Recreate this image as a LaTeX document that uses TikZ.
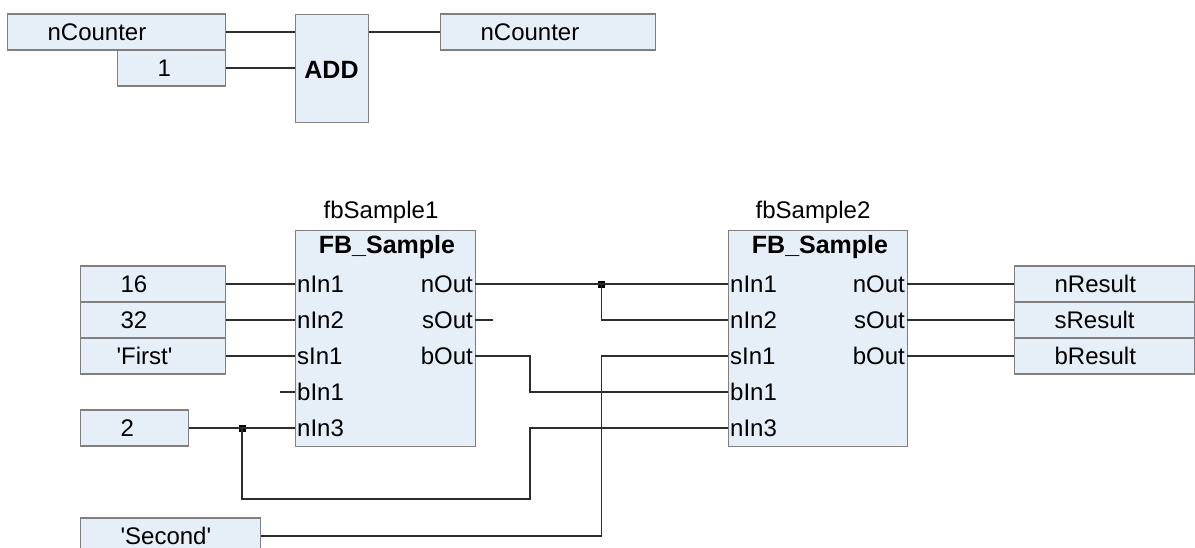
\documentclass[tikz,border=0pt]{standalone}
\usepackage{fontspec}
\setmainfont{Liberation Sans}
\definecolor{boxfill}{RGB}{230,239,248}
\definecolor{boxline}{RGB}{128,128,128}
\definecolor{wire}{RGB}{45,45,45}

\begin{document}
\begin{tikzpicture}[x=1pt,y=-1pt,
        every node/.style={font=\fontsize{24}{28}\selectfont},
        varbox/.style={draw=boxline,fill=boxfill,line width=1.2pt,anchor=west,
            minimum height=36,inner ysep=0,inner xsep=40,text width=#1,align=left},
        fbbox/.style={draw=boxline,fill=boxfill,line width=1.2pt,anchor=north west,
            minimum width=180,minimum height=216,inner sep=0},
        pinlabel/.style={inner xsep=2,inner ysep=0},
        junction/.style={rectangle,fill=black,minimum size=7,inner sep=0},
        wire/.style={draw=wire,line width=1.3pt}]

    \useasboundingbox[fill=white] (0,0) rectangle (1195,547);

    % ADD network
    \node[varbox=138] (ncin) at (7,32) {nCounter};
    \node[varbox=28] (one) at (117,68) {1};
    \node[fbbox,minimum width=73,minimum height=108] (add) at (295,14) {};
    \node[font=\fontsize{25}{28}\selectfont\bfseries] (addname) at (331.5,70) {ADD};
    \node[varbox=135] (ncout) at (440,32) {nCounter};

    \draw[wire] (ncin.east) -- (ncin.east -| add.west);
    \draw[wire] (one.east) -- (one.east -| add.west);
    \draw[wire] (ncout.west -| add.east) -- (ncout.west);

    % function blocks
    \node[fbbox] (fb1) at (295,230) {};
    \node[fbbox,minimum width=179] (fb2) at (728,230) {};
    \node (inst1) at (381,212) {fbSample1};
    \node (inst2) at (813,212) {fbSample2};
    \node[font=\fontsize{25}{28}\selectfont\bfseries] (type1) at (387,247) {FB\_Sample};
    \node[font=\fontsize{25}{28}\selectfont\bfseries] (type2) at (820,247) {FB\_Sample};

    \foreach \fb/\x/\xo in {1/295/475, 2/728/907} {
        \coordinate (i\fb1) at (\x,284);
        \coordinate (i\fb2) at (\x,320);
        \coordinate (i\fb3) at (\x,356);
        \coordinate (i\fb4) at (\x,392);
        \coordinate (i\fb5) at (\x,428);
        \coordinate (o\fb1) at (\xo,284);
        \coordinate (o\fb2) at (\xo,320);
        \coordinate (o\fb3) at (\xo,356);
        \node[pinlabel,anchor=west] (li\fb1) at (i\fb1) {nIn1};
        \node[pinlabel,anchor=west] (li\fb2) at (i\fb2) {nIn2};
        \node[pinlabel,anchor=west] (li\fb3) at (i\fb3) {sIn1};
        \node[pinlabel,anchor=west] (li\fb4) at (i\fb4) {bIn1};
        \node[pinlabel,anchor=west] (li\fb5) at (i\fb5) {nIn3};
        \node[pinlabel,anchor=east] (lo\fb1) at (o\fb1) {nOut};
        \node[pinlabel,anchor=east] (lo\fb2) at (o\fb2) {sOut};
        \node[pinlabel,anchor=east] (lo\fb3) at (o\fb3) {bOut};
    }

    % inputs and outputs
    \node[varbox=65] (v16) at (80,284) {16};
    \node[varbox=65] (v32) at (80,320) {32};
    \node[varbox=65,inner xsep=36,text width=73] (vfirst) at (80,356) {\textquotesingle First\textquotesingle};
    \node[varbox=28] (v2) at (80,428) {2};
    \node[varbox=100] (vsecond) at (80,536) {\textquotesingle Second\textquotesingle};
    \node[varbox=100] (vnres) at (1014,284) {nResult};
    \node[varbox=100] (vsres) at (1014,320) {sResult};
    \node[varbox=100] (vbres) at (1014,356) {bResult};

    \node[junction] (j1) at (242,428) {};
    \node[junction] (j2) at (601.5,284) {};
    \coordinate (stub1) at (280,392);
    \coordinate (stub2) at (493,320);
    \coordinate (k1) at (530,392);
    \coordinate (k2) at (601.5,356);
    \coordinate (k3) at (530,499);

    \draw[wire] (v16.east) -- (i11);
    \draw[wire] (v32.east) -- (i12);
    \draw[wire] (vfirst.east) -- (i13);
    \draw[wire] (stub1) -- (i14);
    \draw[wire] (v2.east) -- (j1.center) -- (i15);
    \draw[wire] (o11) -- (j2.center) -- (i21);
    \draw[wire] (j2.center) |- (i22);
    \draw[wire] (o12) -- (stub2);
    \draw[wire] (o13) -| (k1) -- (i24);
    \draw[wire] (vsecond.east) -| (k2) -- (i23);
    \draw[wire] (j1.center) |- (k3) |- (i25);
    \draw[wire] (o21) -- (vnres.west);
    \draw[wire] (o22) -- (vsres.west);
    \draw[wire] (o23) -- (vbres.west);
\end{tikzpicture}
\end{document}
